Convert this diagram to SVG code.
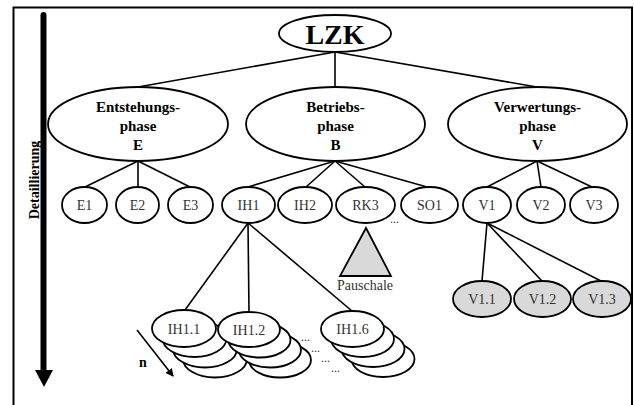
<svg xmlns="http://www.w3.org/2000/svg" width="634" height="405" viewBox="0 0 634 405">
<style>
text{font-family:"Liberation Serif","Times New Roman","DejaVu Serif",serif}
.n{fill:#fff;stroke:#000;stroke-width:1.8}
.g{fill:#d9d9d9;stroke:#000;stroke-width:1.8}
.t{font-size:14px;fill:#333;text-anchor:middle}
.b{font-size:15px;font-weight:bold;fill:#000;text-anchor:middle}
.d{font-size:12px;fill:#333}
.c line{stroke:#000;stroke-width:1.6}
</style>
<defs>
<marker id="ah" markerWidth="8" markerHeight="8" refX="7" refY="4" orient="auto" markerUnits="userSpaceOnUse">
<path d="M0,0 L8,4 L0,8 z" fill="#000"/>
</marker>
</defs>
<rect x="0" y="0" width="634" height="405" fill="#fff"/>
<rect x="13.5" y="7.5" width="618.5" height="402" fill="none" stroke="#000" stroke-width="2"/>
<g id="axis">
<line x1="43.5" y1="15" x2="43.5" y2="372" stroke="#000" stroke-width="6" stroke-linecap="round"/>
<polygon points="35,370 53,370 44,387" fill="#000"/>
<text transform="translate(39,180) rotate(-90)" font-size="14" font-weight="bold" text-anchor="middle">Detaillierung</text>
</g>
<g class="c" id="connectors">
<line x1="335" y1="52" x2="138" y2="87"/>
<line x1="335" y1="52" x2="335" y2="87"/>
<line x1="335" y1="52" x2="537" y2="87"/>
<line x1="138" y1="161" x2="85" y2="187"/>
<line x1="138" y1="161" x2="138" y2="187"/>
<line x1="138" y1="161" x2="190" y2="187"/>
<line x1="335" y1="161" x2="248" y2="187"/>
<line x1="335" y1="161" x2="306" y2="187"/>
<line x1="335" y1="161" x2="365" y2="187"/>
<line x1="335" y1="161" x2="427" y2="187"/>
<line x1="537" y1="161" x2="487" y2="187"/>
<line x1="537" y1="161" x2="541" y2="187"/>
<line x1="537" y1="161" x2="592" y2="187"/>
<line x1="248" y1="223" x2="185" y2="310"/>
<line x1="248" y1="223" x2="249" y2="312"/>
<line x1="248" y1="223" x2="352" y2="311"/>
<line x1="487" y1="223" x2="482" y2="281"/>
<line x1="487" y1="223" x2="542" y2="281"/>
<line x1="487" y1="223" x2="601" y2="281"/>
<line x1="137" y1="330" x2="173" y2="376" marker-end="url(#ah)"/>
</g>
<g id="LZK"><ellipse class="n" cx="335" cy="33.5" rx="56" ry="18.5"/><text x="335" y="44" font-size="28" font-weight="bold" text-anchor="middle">LZK</text></g>
<g id="E"><ellipse class="n" cx="138" cy="124" rx="90" ry="37"/><text class="b" x="138" y="112">Entstehungs-</text><text class="b" x="138" y="131">phase</text><text class="b" x="138" y="150">E</text></g>
<g id="B"><ellipse class="n" cx="335.5" cy="124" rx="89.5" ry="37"/><text class="b" x="335.5" y="112">Betriebs-</text><text class="b" x="335.5" y="131">phase</text><text class="b" x="335.5" y="150">B</text></g>
<g id="V"><ellipse class="n" cx="537.5" cy="124" rx="89.5" ry="37"/><text class="b" x="537.5" y="112">Verwertungs-</text><text class="b" x="537.5" y="131">phase</text><text class="b" x="537.5" y="150">V</text></g>
<g id="E1"><ellipse class="n" cx="84.5" cy="205" rx="22.5" ry="18"/><text class="t" x="84.5" y="210">E1</text></g>
<g id="E2"><ellipse class="n" cx="137.5" cy="205" rx="21.5" ry="18"/><text class="t" x="137.5" y="210">E2</text></g>
<g id="E3"><ellipse class="n" cx="190.5" cy="205" rx="22.5" ry="18"/><text class="t" x="190.5" y="210">E3</text></g>
<g id="IH1"><ellipse class="n" cx="248.5" cy="205" rx="26.5" ry="18"/><text class="t" x="248.5" y="210">IH1</text></g>
<g id="IH2"><ellipse class="n" cx="305" cy="205" rx="27" ry="18"/><text class="t" x="305" y="210">IH2</text></g>
<g id="RK3"><ellipse class="n" cx="365.5" cy="205" rx="29.5" ry="18"/><text class="t" x="365.5" y="210">RK3</text></g>
<g id="dots1"><text class="d" x="390" y="223">...</text></g>
<g id="SO1"><ellipse class="n" cx="429.5" cy="205" rx="28.5" ry="18"/><text class="t" x="429.5" y="210">SO1</text></g>
<g id="V1"><ellipse class="n" cx="487" cy="205" rx="24" ry="18"/><text class="t" x="487" y="210">V1</text></g>
<g id="V2"><ellipse class="n" cx="541" cy="205" rx="24" ry="18"/><text class="t" x="541" y="210">V2</text></g>
<g id="V3"><ellipse class="n" cx="594" cy="205" rx="24" ry="18"/><text class="t" x="594" y="210">V3</text></g>
<g id="Pauschale"><polygon points="366,228 340,276 391,276" fill="#d9d9d9" stroke="#000" stroke-width="1.8"/><text class="t" x="365" y="290">Pauschale</text></g>
<g id="V1.1"><ellipse class="g" cx="482" cy="299" rx="29" ry="18"/><text class="t" x="482" y="304">V1.1</text></g>
<g id="V1.2"><ellipse class="g" cx="542.5" cy="299" rx="28.5" ry="18"/><text class="t" x="542.5" y="304">V1.2</text></g>
<g id="V1.3"><ellipse class="g" cx="602" cy="299" rx="29" ry="18"/><text class="t" x="602" y="304">V1.3</text></g>
<g id="IH1.1">
<ellipse class="n" cx="215" cy="359" rx="32" ry="18.5"/>
<ellipse class="n" cx="205" cy="349" rx="32" ry="18.5"/>
<ellipse class="n" cx="194.5" cy="338.5" rx="32" ry="18.5"/>
<ellipse class="n" cx="184" cy="328.5" rx="32" ry="18.5"/>
<text class="t" x="184" y="334">IH1.1</text>
</g>
<g id="IH1.2">
<ellipse class="n" cx="280" cy="360" rx="31" ry="17.5"/>
<ellipse class="n" cx="270" cy="350" rx="31" ry="17.5"/>
<ellipse class="n" cx="259.5" cy="340" rx="31" ry="17.5"/>
<ellipse class="n" cx="249" cy="329.5" rx="31" ry="17.5"/>
<text class="t" x="249" y="335">IH1.2</text>
</g>
<g id="dots2">
<text class="d" x="301" y="341">...</text>
<text class="d" x="311" y="352">...</text>
<text class="d" x="321" y="362">...</text>
<text class="d" x="331" y="372">...</text>
</g>
<g id="IH1.6">
<ellipse class="n" cx="383" cy="359" rx="31.5" ry="18"/>
<ellipse class="n" cx="373" cy="349" rx="31.5" ry="18"/>
<ellipse class="n" cx="362.5" cy="339" rx="31.5" ry="18"/>
<ellipse class="n" cx="352.5" cy="329" rx="31.5" ry="18"/>
<text class="t" x="352.5" y="334">IH1.6</text>
</g>
<g id="n-label"><text x="143" y="367" font-size="14" font-weight="bold" text-anchor="middle">n</text></g>
</svg>
